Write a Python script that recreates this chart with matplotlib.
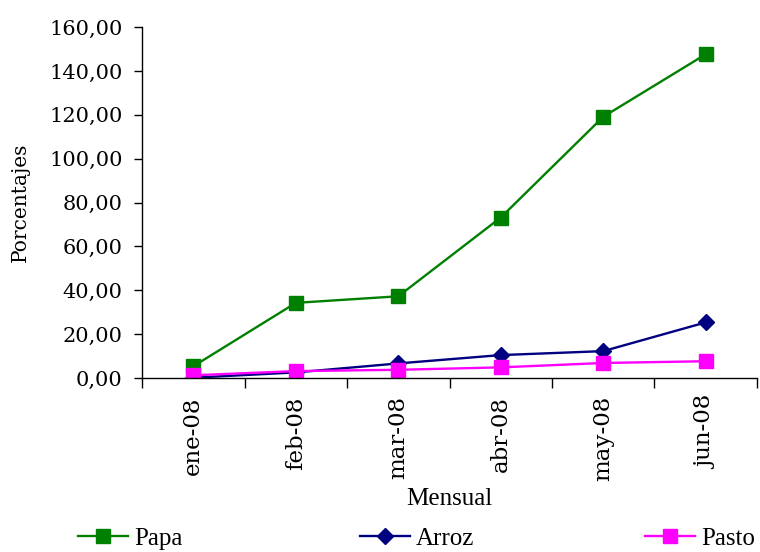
import matplotlib.pyplot as plt
from matplotlib.ticker import FuncFormatter, MultipleLocator
import numpy as np

# datos mensuales (porcentajes)
meses = ['ene-08', 'feb-08', 'mar-08', 'abr-08', 'may-08', 'jun-08']
papa = [5.4, 34.3, 37.3, 73.2, 119.1, 147.6]
arroz = [0.2, 2.6, 6.7, 10.5, 12.3, 25.4]
pasto = [1.3, 3.2, 3.8, 4.9, 6.9, 7.7]

fig = plt.figure(figsize=(7.6, 5.52), dpi=100)
ax = fig.add_axes([0.187, 0.315, 0.809, 0.636])

x = np.arange(len(meses))
l1, = ax.plot(x, papa, color='#008000', lw=1.7, marker='s', ms=9.5, label='Papa')
l2, = ax.plot(x, arroz, color='#000080', lw=1.7, marker='D', ms=8.5, label='Arroz')
l3, = ax.plot(x, pasto, color='#ff00ff', lw=1.7, marker='s', ms=9.5, label='Pasto')

ax.set_xlim(-0.5, len(meses) - 0.5)
ax.set_ylim(0, 160)
ax.yaxis.set_major_locator(MultipleLocator(20))
ax.yaxis.set_major_formatter(FuncFormatter(lambda v, p: ('%.2f' % v).replace('.', ',')))

ax.set_xticks(x)
ax.set_xticklabels(meses, rotation=90, family='DejaVu Serif', fontsize=16.5)
ax.set_xticks(np.arange(-0.5, len(meses)), minor=True)
ax.tick_params(axis='x', which='major', length=0, pad=13)
ax.tick_params(axis='x', which='minor', length=7, width=1, direction='out')
ax.tick_params(axis='y', length=6, width=1, direction='out', pad=8)
for t in ax.get_yticklabels():
    t.set_family('DejaVu Serif')
    t.set_fontsize(15)

for s in ['top', 'right']:
    ax.spines[s].set_visible(False)
ax.spines['left'].set_linewidth(1)
ax.spines['bottom'].set_linewidth(1)

ax.set_ylabel('Porcentajes', family='DejaVu Serif', fontsize=14.5, labelpad=14)
ax.set_xlabel('Mensual', family='Liberation Serif', fontsize=18, labelpad=5)

# leyenda en tres entradas separadas, como en la hoja original
for h, xpos in [(l1, 78), (l2, 360), (l3, 645)]:
    fig.legend(handles=[h], loc='lower left', bbox_to_anchor=(xpos / 760, 0.004),
               frameon=False, prop={'family': 'Liberation Serif', 'size': 18},
               handlelength=2.0, handletextpad=0.25, borderpad=0, borderaxespad=0)

plt.savefig('out.png', dpi=100)
